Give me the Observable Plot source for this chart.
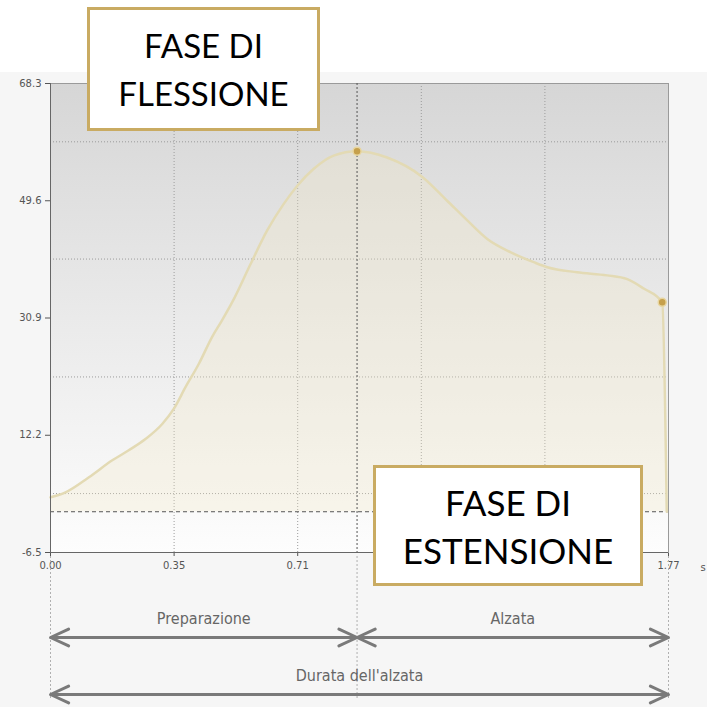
<!DOCTYPE html>
<html><head><meta charset="utf-8">
<script src="https://cdn.jsdelivr.net/npm/d3@7"></script>
<script src="https://cdn.jsdelivr.net/npm/@observablehq/plot@0.6"></script>
<style>
html,body{margin:0;padding:0;background:#fff;}
#wrap{position:relative;width:707px;height:707px;overflow:hidden;background:#fff;}
#chart{position:absolute;left:0;top:72px;}
.box{position:absolute;background:#fff;border:3px solid #c9ab62;box-sizing:border-box;font-family:Lato,"Open Sans",sans-serif;color:#000;text-align:center;display:flex;flex-direction:column;justify-content:center;line-height:48px;}
</style></head><body>
<svg width="0" height="0" style="position:absolute"><defs>
<linearGradient id="bg" x1="0" y1="0" x2="0" y2="1">
<stop offset="0" stop-color="#d6d6d6"/><stop offset="0.5" stop-color="#eaeaea"/><stop offset="1" stop-color="#fdfdfd"/>
</linearGradient></defs></svg>
<div id="wrap"><div id="chart"></div></div>
<script>
// ---- data ----
const time  = [0, 0.043, 0.110, 0.177, 0.224, 0.272, 0.320, 0.353, 0.387, 0.425, 0.463, 0.490, 0.525, 0.573, 0.621, 0.668, 0.707, 0.754, 0.811, 0.878, 0.964, 1.065, 1.136, 1.193, 1.251, 1.317, 1.384, 1.423, 1.508, 1.594, 1.652, 1.699, 1.752, 1.765];
const force = [2.3, 3.1, 5.5, 8.2, 9.8, 11.6, 14.0, 16.4, 19.9, 23.6, 27.9, 30.4, 33.9, 39.5, 44.9, 49.1, 52.0, 54.7, 56.8, 57.5, 56.5, 53.4, 49.6, 46.5, 43.5, 41.4, 39.8, 39.0, 38.2, 37.7, 37.1, 35.6, 33.4, 0.0];
const keyTimes  = [0.878, 1.752];
const keyForces = [57.5, 33.4];
const yTicks = [68.3, 49.6, 30.9, 12.2, -6.5];
const yGrid  = [59.0, 40.3, 21.5, 2.9];
const xTicks = [0, 0.354, 0.708, 1.062, 1.416, 1.77];
const xTickLabels = ["0.00", "0.35", "0.71", "", "", "1.77"]; // 1.06 and 1.42 are covered by the box
const phaseBounds = [0, 0.878, 1.77];
const phaseNames = ["Preparazione", "Alzata"];
const totalName = "Durata dell'alzata";
const unitLabel = "s";
const boxLines = [["FASE DI", "FLESSIONE"], ["FASE DI", "ESTENSIONE"]];

// ---- layout ----
const W = 707, H = 635, mt = 11, mb = 155, ml = 50, mr = 39;
const yMin = -6.5, yMax = 68.3;
const pxPerUnit = (H - mt - mb) / (yMax - yMin);
const below = px => yMin - px / pxPerUnit;

const curveData = time.map((t, i) => ({t, f: force[i]}));
const keyData = keyTimes.map((t, i) => ({t, f: keyForces[i]}));
const spans = phaseNames.map((name, i) => ({name, a: phaseBounds[i], b: phaseBounds[i + 1]}));
const total = {name: totalName, a: phaseBounds[0], b: phaseBounds[phaseBounds.length - 1]};
const arrowsFor = (s, y) => {
  const m = (s.a + s.b) / 2;
  return [{x1: m, x2: s.a, y}, {x1: m, x2: s.b, y}];
};
const arrowRow1 = spans.flatMap(s => arrowsFor(s, below(85)));
const arrowRow2 = arrowsFor(total, below(142));
const annoFont = "'DejaVu Sans Condensed','DejaVu Sans',sans-serif";

const chart = Plot.plot({
  width: W, height: H,
  marginTop: mt, marginBottom: mb, marginLeft: ml, marginRight: mr,
  style: {background: "#f6f6f6", color: "#555", fontFamily: "'DejaVu Sans',sans-serif", fontSize: "10px", overflow: "visible"},
  x: {domain: [0, 1.77], ticks: xTicks, tickFormat: d => xTickLabels[xTicks.indexOf(d)], tickSize: 4, label: null},
  y: {domain: [yMin, yMax], ticks: yTicks, tickFormat: d => d.toFixed(1), tickSize: 5, label: null},
  marks: [
    Plot.frame({fill: "url(#bg)", stroke: "#9a9a9a"}),
    Plot.ruleY(yGrid, {stroke: "#9c9c9c", strokeDasharray: "1,2"}),
    Plot.ruleX(xTicks.slice(1, -1), {stroke: "#9c9c9c", strokeDasharray: "1,2"}),
    Plot.areaY(curveData, {x: "t", y1: 0, y2: "f", fill: "#f2e9c8", fillOpacity: 0.3, curve: "monotone-x"}),
    Plot.ruleY([0], {stroke: "#555", strokeDasharray: "4,3"}),
    Plot.ruleX([phaseBounds[1]], {stroke: "#555", strokeDasharray: "2,2"}),
    Plot.line(curveData, {x: "t", y: "f", stroke: "#e3dab4", strokeWidth: 2.5, curve: "monotone-x"}),
    Plot.dot(keyData, {x: "t", y: "f", r: 4, fill: "#c6a04c", stroke: "#e8d6a0", strokeWidth: 1.5}),
    Plot.ruleX([0], {stroke: "#666"}),
    Plot.ruleY([yMin], {stroke: "#666"}),
    // annotations below the axis
    Plot.ruleX(phaseBounds, {y1: below(4), y2: below(148), stroke: "#b0b0b0", strokeDasharray: "2,2"}),
    Plot.arrow(arrowRow1, {x1: "x1", x2: "x2", y1: "y", y2: "y", stroke: "#7a7a7a", strokeWidth: 3, headLength: 10, headAngle: 50}),
    Plot.arrow(arrowRow2, {x1: "x1", x2: "x2", y1: "y", y2: "y", stroke: "#7a7a7a", strokeWidth: 3, headLength: 10, headAngle: 50}),
    Plot.text(spans, {x: d => (d.a + d.b) / 2, y: below(66), text: "name", fill: "#666", fontSize: 16, fontFamily: annoFont}),
    Plot.text([total], {x: d => (d.a + d.b) / 2, y: below(123), text: "name", fill: "#666", fontSize: 16, fontFamily: annoFont}),
    Plot.text([unitLabel], {x: xTicks[xTicks.length - 1], y: yMin, text: d => d, dx: 32, dy: 15, textAnchor: "start", fill: "#555", fontSize: 10})
  ]
});
document.getElementById("chart").appendChild(chart);

// phase boxes
const boxPos = [
  {left: 87, top: 7, width: 233, height: 124, size: 33},
  {left: 373, top: 465, width: 270, height: 121, size: 35}
];
boxLines.forEach((lines, i) => {
  const b = document.createElement("div");
  b.className = "box";
  const p = boxPos[i];
  Object.assign(b.style, {left: p.left + "px", top: p.top + "px", width: p.width + "px", height: p.height + "px", fontSize: p.size + "px"});
  lines.forEach(l => { const d = document.createElement("div"); d.textContent = l; b.appendChild(d); });
  document.getElementById("wrap").appendChild(b);
});
</script>
</body></html>
